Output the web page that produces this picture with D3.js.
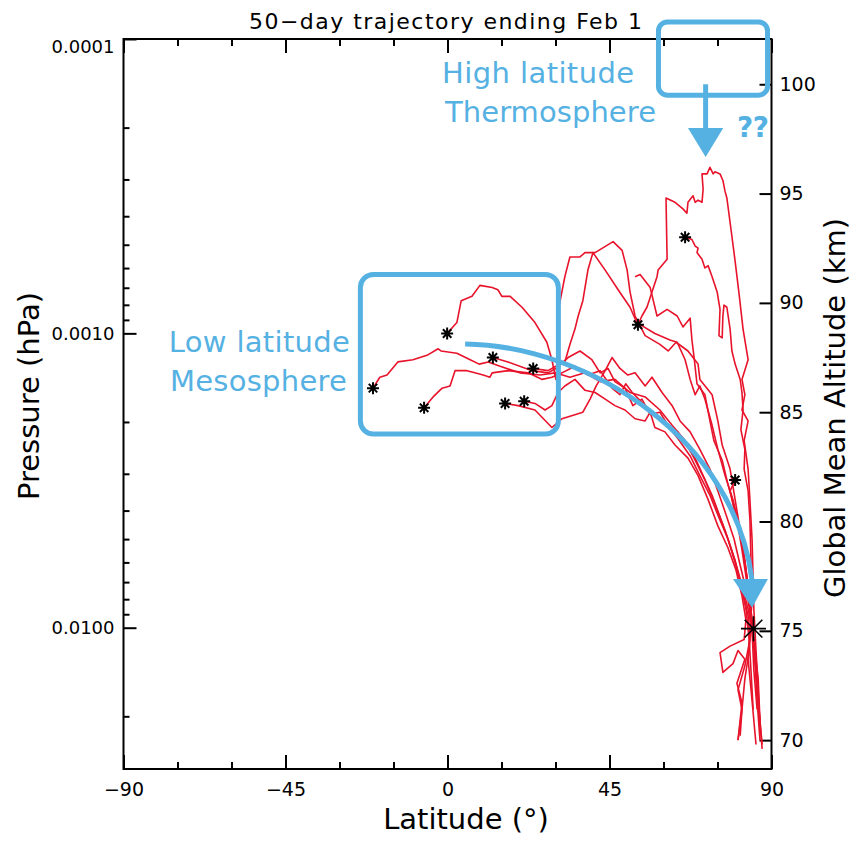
<!DOCTYPE html>
<html><head><meta charset="utf-8">
<script src="https://cdn.jsdelivr.net/npm/d3@7"></script>
<style>body{margin:0;background:#fff} text{font-family:"DejaVu Sans",sans-serif}</style>
</head><body>
<svg id="chart" width="857" height="841"></svg>
<script>
// ---------- axis ticks ----------
const latTicks = [-90,-75,-60,-45,-30,-15,0,15,30,45,60,75,90];
const latLabels = [-90,-45,0,45,90];
const pressureMajor = [0.0001,0.001,0.01];
const pressureMinor = [0.0002,0.0003,0.0004,0.0005,0.0006,0.0007,0.0008,0.0009,
                       0.002,0.003,0.004,0.005,0.006,0.007,0.008,0.009,0.02];
const altTicks = [70,75,80,85,90,95,100];

// ---------- trajectories: [latitude (deg), global-mean altitude (km)] ----------
const traj01 = [[-20.7,86.1],[-18.8,86.6],[-16.8,86.7],[-13.8,87.3],[-9.6,87.4],[-5.7,87.6],[-2.6,87.9],[-1.8,87.8],[2.6,87.7],[6.3,87.4],[8.8,87.2],[11.3,87.3],[14.6,87.1],[20.1,86.8],[25.7,86.7],[29.9,86.8],[34.0,86.6],[38.2,86.8],[42.4,86.4],[46.5,86.5],[50.7,85.9],[54.9,85.7],[59.0,85.1],[62.4,84.4],[66.0,83.7],[68.8,82.8],[71.5,81.9],[74.3,80.8],[77.1,79.6],[79.9,78.2],[81.8,77.1],[83.5,76.0],[84.6,75.0],[85.4,73.7],[86.3,71.8],[87.4,69.6]];
const traj02 = [[-6.5,85.2],[-4.0,85.7],[-1.5,86.1],[0.7,86.2],[2.1,86.9],[5.4,86.9],[7.6,86.8],[9.9,86.7],[11.8,86.6],[12.4,86.8],[16.8,86.9],[22.4,86.8],[26.3,86.5],[29.0,86.6],[31.8,86.8],[35.4,87.1],[39.0,86.7],[42.4,86.9],[45.7,86.1],[47.9,85.8],[49.5,86.3],[51.3,85.9],[54.9,85.3],[57.6,84.9],[61.0,84.4],[64.0,83.8],[67.4,83.0],[70.1,82.1],[72.9,81.2],[75.1,80.3],[77.9,79.2],[80.1,78.0],[81.8,76.9],[83.5,75.7],[84.0,74.6],[82.6,73.4],[80.7,72.3],[81.8,71.4],[80.7,70.0]];
const traj03 = [[-0.1,88.6],[2.6,89.1],[3.8,90.1],[6.8,90.3],[9.0,90.8],[12.4,90.7],[14.0,90.6],[15.1,90.3],[17.4,90.3],[20.7,89.8],[24.3,89.1],[27.6,88.2],[29.0,87.4],[30.1,86.5],[30.7,87.8],[30.7,89.6],[32.6,91.2],[34.0,92.1],[36.8,92.1],[38.2,92.3],[41.0,92.3],[46.0,92.8],[48.5,92.4],[49.9,91.5],[50.7,90.5],[52.1,89.4],[54.9,88.5],[59.0,88.1],[61.3,87.8],[63.5,88.2],[66.8,87.8],[69.6,87.2],[70.1,86.5],[73.5,85.8],[75.1,84.6],[76.3,83.5],[78.5,82.4],[79.9,81.0],[81.3,79.6],[82.6,78.2],[83.5,76.9],[84.6,75.5],[85.4,73.7],[86.0,71.8],[86.8,70.0]];
const traj04 = [[12.6,87.5],[16.8,87.3],[23.5,86.9],[27.9,86.8],[30.1,87.0],[33.5,87.5],[36.8,87.8],[40.1,87.4],[42.4,86.8],[44.6,87.0],[46.5,86.4],[49.3,86.1],[51.5,85.3],[54.0,85.6],[56.3,84.9],[59.0,85.0],[61.3,84.4],[64.0,84.1],[66.3,83.5],[68.8,82.9],[71.0,82.1],[73.5,81.2],[75.7,80.2],[77.9,79.2],[79.9,78.2],[81.5,77.1],[82.9,76.0],[83.8,74.6],[84.3,73.2],[84.9,71.4]];
const traj05 = [[23.8,87.0],[27.9,86.9],[30.1,87.1],[32.6,87.3],[34.0,88.1],[35.4,88.8],[36.3,89.4],[37.6,90.1],[39.0,91.5],[40.4,92.3],[43.8,91.5],[47.4,90.6],[50.7,89.8],[52.6,89.1],[57.6,88.6],[61.8,88.3],[63.8,88.2],[66.0,87.4],[67.4,86.5],[68.8,85.8],[70.1,86.2],[71.5,85.6],[73.5,84.4],[75.1,83.3],[77.1,82.1],[79.3,81.0],[81.3,79.6],[82.6,78.2],[84.0,76.4],[84.6,75.0],[85.1,73.2],[86.0,71.4]];
const traj06 = [[16.0,85.4],[19.6,85.3],[24.3,85.1],[29.0,84.3],[31.8,84.7],[37.6,85.0],[39.6,85.6],[41.3,86.2],[43.8,86.9],[45.7,87.5],[47.9,87.0],[50.1,86.7],[52.1,86.8],[54.9,86.2],[56.8,86.6],[59.6,85.9],[62.4,85.3],[64.6,84.6],[67.4,84.1],[70.1,83.3],[72.9,82.4],[75.1,81.4],[77.4,80.3],[79.6,79.2],[81.3,78.0],[82.9,76.9],[84.0,75.9],[85.1,74.6],[86.3,72.8],[86.8,70.9],[87.4,69.8]];
const traj07 = [[21.3,85.5],[24.3,85.4],[27.1,85.1],[29.0,85.3],[30.7,85.9],[32.6,86.2],[35.4,86.5],[38.2,86.0],[41.0,85.9],[43.8,85.6],[46.5,85.3],[49.3,85.1],[52.1,84.7],[54.9,84.6],[56.3,85.0],[57.6,84.3],[60.4,84.1],[63.2,83.5],[66.8,82.9],[69.6,82.1],[72.4,81.0],[75.1,79.8],[77.9,78.8],[80.1,77.8],[81.8,76.6],[82.9,75.5],[82.4,74.6],[78.5,74.3],[75.7,74.0],[76.5,73.1],[79.3,73.5],[80.7,74.1],[82.6,73.7],[80.4,72.6],[81.8,71.7],[80.7,70.0]];
const traj08 = [[52.9,89.0],[54.0,89.4],[55.4,89.8],[56.8,90.5],[58.2,91.2],[58.5,91.5],[61.0,92.0],[60.7,94.8],[63.2,94.6],[65.4,94.3],[66.5,94.1],[66.8,94.6],[68.2,94.9],[68.8,94.6],[69.6,94.7],[70.7,94.6],[71.0,95.2],[70.7,95.9],[72.1,95.9],[72.9,96.2],[73.8,95.9],[74.3,96.0],[75.7,95.9],[76.5,95.6],[77.1,95.1],[77.6,94.8],[78.8,93.3],[79.9,91.9],[81.0,90.4],[82.1,88.8],[83.2,87.7],[83.5,87.4],[81.8,86.5],[82.6,85.8],[81.8,85.1],[83.5,84.6],[82.4,83.7],[83.5,82.4],[84.0,81.0],[84.6,79.2],[84.9,77.3],[85.1,76.0],[85.7,74.1],[86.3,72.3],[86.8,70.5]];
const traj09 = [[66.0,93.0],[67.9,92.9],[68.8,92.6],[69.6,92.5],[69.3,92.3],[70.7,92.0],[71.5,91.6],[72.4,91.7],[73.5,91.2],[74.9,90.5],[75.7,89.7],[75.4,88.5],[76.3,88.4],[76.5,89.4],[76.8,89.9],[77.6,89.8],[78.5,88.8],[79.0,87.8],[79.9,87.2],[81.3,86.5],[81.8,85.9],[82.1,85.1],[81.5,84.2],[82.6,83.3],[82.4,82.4],[83.5,81.4],[84.0,80.1],[84.3,78.2],[84.6,76.4],[84.0,75.0],[83.5,73.7],[84.6,71.8],[85.7,69.8]];
const traj10 = [[79.9,81.9],[78.5,81.4],[79.3,80.8],[80.7,79.8],[81.8,78.7],[82.9,77.5],[83.8,76.4],[84.3,75.3],[83.8,74.1],[82.6,72.8],[81.8,71.4],[81.3,70.2]];
const traj11 = [[52.1,91.2],[53.5,91.3],[56.3,90.7],[58.2,89.4],[61.0,89.7],[63.8,89.4],[65.4,88.9],[67.4,89.3],[67.9,88.3],[68.5,87.5],[69.3,86.3],[71.5,85.8],[72.9,84.6],[74.0,83.7],[76.3,82.8],[77.9,81.7],[79.9,80.5],[81.5,79.2],[82.9,77.8],[84.0,76.4],[84.9,75.0],[85.7,73.2],[86.8,70.9]];
const starredTrajectories = [traj01,traj02,traj03,traj04,traj05,traj06,traj07,traj08,traj09,traj10];
const allTrajectories = [traj01,traj02,traj03,traj04,traj05,traj06,traj07,traj08,traj09,traj10,traj11];
const finalPoint = [85.0, 75.1];

// ---------- annotations (data units: latitude, altitude km) ----------
const lowBox = [-24.2, 30.8, 84.0, 91.3];
const highBox = [58.6, 88.9, 99.5, 102.85];
const downArrow = {lat:71.7, from:100.0, base:98.0, tip:96.67, half:4.9};
const curveArrow = [[4.9,88.12],[39.6,88.03],[79.9,83.73],[84.6,77.3]];
const curveHead = {lat0:79.3, lat1:89.0, base:77.37, tipLat:84.6, tip:76.05};

// ---------- layout ----------
const svg = d3.select('#chart');
const L=123.5, R=771.5, T=39, B=769;
const x = d3.scaleLinear().domain([-90,90]).range([L,R]);
const yP = d3.scaleLog().domain([0.0001,0.0302]).range([T,B]);
const yA = d3.scaleLinear().domain([68.68,102.07]).range([B,T]);
const BLUE = '#56b1e3', RED = '#e8132b';

function styleAxis(g, fs){
  g.select('.domain').remove();
  g.selectAll('.tick line').attr('stroke','#000').attr('stroke-width',2);
  g.selectAll('.tick text').attr('fill','#000').style('font-size',fs+'px')
    .style('font-family','"DejaVu Sans",sans-serif');
}
const majorLat = latTicks.filter(d=>d%45===0), minorLat = latTicks.filter(d=>d%45!==0);
// bottom
svg.append('g').attr('transform',`translate(0,${B})`)
  .call(d3.axisBottom(x).tickValues(majorLat).tickSize(-14).tickPadding(14).tickFormat(d=>latLabels.includes(d)?d3.format('d')(d):''))
  .call(g=>styleAxis(g,19));
svg.append('g').attr('transform',`translate(0,${B})`)
  .call(d3.axisBottom(x).tickValues(minorLat).tickSize(-7).tickFormat(''))
  .call(g=>styleAxis(g,19));
// top
svg.append('g').attr('transform',`translate(0,${T})`)
  .call(d3.axisTop(x).tickValues(majorLat).tickSize(-14).tickFormat(''))
  .call(g=>styleAxis(g,19));
svg.append('g').attr('transform',`translate(0,${T})`)
  .call(d3.axisTop(x).tickValues(minorLat).tickSize(-7).tickFormat(''))
  .call(g=>styleAxis(g,19));
// left pressure
const gl = svg.append('g').attr('transform',`translate(${L},0)`)
  .call(d3.axisLeft(yP).tickValues(pressureMajor).tickSize(-13).tickPadding(9).tickFormat(d3.format('.4f')))
  .call(g=>styleAxis(g,18));
gl.selectAll('.tick text').filter(d=>d===0.0001).attr('dy','0.75em');
svg.append('g').attr('transform',`translate(${L},0)`)
  .call(d3.axisLeft(yP).tickValues(pressureMinor).tickSize(-6).tickFormat(''))
  .call(g=>styleAxis(g,18));
// right altitude
svg.append('g').attr('transform',`translate(${R},0)`)
  .call(d3.axisRight(yA).tickValues(altTicks).tickSize(-12).tickPadding(8))
  .call(g=>styleAxis(g,19));
// frame
svg.append('rect').attr('x',L).attr('y',T).attr('width',R-L).attr('height',B-T)
  .attr('fill','none').attr('stroke','#000').attr('stroke-width',2);

// ---------- trajectories ----------
const line = d3.line().x(d=>x(d[0])).y(d=>yA(d[1]));
svg.append('g').selectAll('path').data(allTrajectories).join('path')
  .attr('d',line).attr('fill','none').attr('stroke',RED).attr('stroke-width',1.6)
  .attr('stroke-linejoin','round');

function asterisk(r){ const a=r*Math.SQRT1_2;
  return `M${-r},0L${r},0M0,${-r}L0,${r}M${-a},${-a}L${a},${a}M${-a},${a}L${a},${-a}`; }
svg.append('g').selectAll('path').data(starredTrajectories.map(t=>t[0])).join('path')
  .attr('transform',d=>`translate(${x(d[0])},${yA(d[1])})`)
  .attr('d',asterisk(6)).attr('stroke','#000').attr('stroke-width',2).attr('fill','none');
svg.append('path').attr('transform',`translate(${x(finalPoint[0])},${yA(finalPoint[1])})`)
  .attr('d',asterisk(12.5)).attr('stroke','#000').attr('stroke-width',1.6).attr('fill','none');

// ---------- annotations ----------
const ann = svg.append('g');
function box(b, rad){
  ann.append('rect').attr('x',x(b[0])).attr('y',yA(b[3])).attr('width',x(b[1])-x(b[0]))
    .attr('height',yA(b[2])-yA(b[3])).attr('rx',rad).attr('fill','none')
    .attr('stroke',BLUE).attr('stroke-width',5);
}
box(lowBox,13); box(highBox,9);
ann.append('line').attr('x1',x(downArrow.lat)).attr('x2',x(downArrow.lat))
  .attr('y1',yA(downArrow.from)).attr('y2',yA(downArrow.base)+2)
  .attr('stroke',BLUE).attr('stroke-width',5);
ann.append('path').attr('d',`M${x(downArrow.lat-downArrow.half)},${yA(downArrow.base)}L${x(downArrow.lat+downArrow.half)},${yA(downArrow.base)}L${x(downArrow.lat)},${yA(downArrow.tip)}Z`)
  .attr('fill',BLUE);
const cp = d3.path();
const P = curveArrow.map(d=>[x(d[0]),yA(d[1])]);
cp.moveTo(P[0][0],P[0][1]); cp.bezierCurveTo(P[1][0],P[1][1],P[2][0],P[2][1],P[3][0],P[3][1]);
ann.append('path').attr('d',cp.toString()).attr('fill','none').attr('stroke',BLUE).attr('stroke-width',5);
ann.append('path').attr('d',`M${x(curveHead.lat0)},${yA(curveHead.base)}L${x(curveHead.lat1)},${yA(curveHead.base)}L${x(curveHead.tipLat)},${yA(curveHead.tip)}Z`)
  .attr('fill',BLUE);

const labels = [
  {t:'High latitude', lat:-1.5, alt:100.06, w:192},
  {t:'Thermosphere', lat:-0.7, alt:98.28, w:211},
  {t:'Low latitude', lat:-77.4, alt:87.75, w:181},
  {t:'Mesosphere', lat:-77.1, alt:85.97, w:177}
];
ann.selectAll('text.lab').data(labels).join('text').attr('class','lab')
  .attr('x',d=>x(d.lat)).attr('y',d=>yA(d.alt)).text(d=>d.t)
  .attr('fill',BLUE).style('font-size','29px').attr('textLength',d=>d.w).attr('lengthAdjust','spacing');
ann.append('text').attr('x',x(80.4)).attr('y',yA(97.58)).text('??')
  .attr('fill',BLUE).style('font-size','28px').style('font-weight','bold').attr('textLength',32);

// ---------- titles ----------
svg.append('text').attr('x',445.5).attr('y',29).attr('text-anchor','middle')
  .style('font-size','22px').attr('textLength',393).attr('lengthAdjust','spacing')
  .text('50\u2212day trajectory ending Feb 1');
svg.append('text').attr('x',466).attr('y',829).attr('text-anchor','middle')
  .style('font-size','29px').text('Latitude (\u00b0)');
svg.append('text').attr('transform','translate(29,396) rotate(-90)').attr('text-anchor','middle')
  .attr('dominant-baseline','central').style('font-size','29px').text('Pressure (hPa)');
svg.append('text').attr('transform','translate(835,408) rotate(-90)').attr('text-anchor','middle')
  .attr('dominant-baseline','central').style('font-size','29px').text('Global Mean Altitude (km)');
</script>
</body></html>
